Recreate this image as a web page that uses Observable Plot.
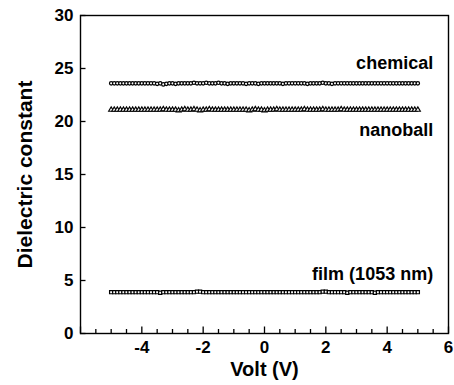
<!DOCTYPE html>
<html>
<head>
<meta charset="utf-8">
<script src="https://cdn.jsdelivr.net/npm/d3@7"></script>
<script src="https://cdn.jsdelivr.net/npm/@observablehq/plot@0.6"></script>
<style>
  html, body { margin: 0; padding: 0; background: #fff; }
  svg { display: block; }
</style>
</head>
<body>
<div id="chart"></div>
<script>
const volts = [
  -5.0,-4.9,-4.8,-4.7,-4.6,-4.5,-4.4,-4.3,-4.2,-4.1,
  -4.0,-3.9,-3.8,-3.7,-3.6,-3.5,-3.4,-3.3,-3.2,-3.1,
  -3.0,-2.9,-2.8,-2.7,-2.6,-2.5,-2.4,-2.3,-2.2,-2.1,
  -2.0,-1.9,-1.8,-1.7,-1.6,-1.5,-1.4,-1.3,-1.2,-1.1,
  -1.0,-0.9,-0.8,-0.7,-0.6,-0.5,-0.4,-0.3,-0.2,-0.1,
  0.0,0.1,0.2,0.3,0.4,0.5,0.6,0.7,0.8,0.9,
  1.0,1.1,1.2,1.3,1.4,1.5,1.6,1.7,1.8,1.9,
  2.0,2.1,2.2,2.3,2.4,2.5,2.6,2.7,2.8,2.9,
  3.0,3.1,3.2,3.3,3.4,3.5,3.6,3.7,3.8,3.9,
  4.0,4.1,4.2,4.3,4.4,4.5,4.6,4.7,4.8,4.9,
  5.0
];
const chemical = [
  23.6,23.6,23.6,23.6,23.6,23.6,23.6,23.6,23.6,23.6,
  23.6,23.6,23.6,23.6,23.6,23.55,23.6,23.5,23.55,23.6,
  23.6,23.55,23.6,23.6,23.6,23.6,23.6,23.65,23.6,23.6,
  23.6,23.65,23.6,23.6,23.6,23.65,23.6,23.6,23.55,23.6,
  23.6,23.6,23.6,23.6,23.55,23.6,23.6,23.6,23.55,23.6,
  23.6,23.6,23.6,23.6,23.6,23.6,23.55,23.6,23.6,23.6,
  23.6,23.6,23.6,23.6,23.55,23.6,23.6,23.6,23.6,23.65,
  23.6,23.6,23.55,23.6,23.6,23.6,23.6,23.6,23.6,23.6,
  23.6,23.6,23.6,23.6,23.6,23.6,23.6,23.6,23.6,23.6,
  23.6,23.6,23.6,23.6,23.6,23.6,23.6,23.6,23.6,23.6,
  23.6
];
const nanoball = [
  21.1,21.1,21.1,21.1,21.1,21.1,21.1,21.1,21.1,21.1,
  21.1,21.1,21.1,21.1,21.1,21.1,21.1,21.15,21.1,21.1,
  21.1,21.1,21.05,21.1,21.15,21.1,21.1,21.15,21.1,21.05,
  21.1,21.1,21.15,21.1,21.1,21.1,21.1,21.1,21.1,21.1,
  21.1,21.1,21.1,21.1,21.1,21.05,21.1,21.15,21.1,21.1,
  21.05,21.1,21.1,21.1,21.15,21.1,21.1,21.1,21.1,21.1,
  21.1,21.1,21.1,21.15,21.1,21.1,21.1,21.1,21.1,21.15,
  21.1,21.1,21.1,21.1,21.1,21.15,21.1,21.1,21.1,21.1,
  21.1,21.1,21.1,21.1,21.1,21.1,21.1,21.1,21.1,21.1,
  21.1,21.1,21.1,21.1,21.1,21.1,21.1,21.1,21.1,21.1,
  21.1
];
const film = [
  3.9,3.9,3.9,3.9,3.9,3.9,3.9,3.9,3.9,3.9,
  3.9,3.9,3.9,3.9,3.9,3.9,3.85,3.9,3.9,3.9,
  3.9,3.9,3.9,3.9,3.9,3.9,3.9,3.9,3.95,3.95,
  3.9,3.9,3.9,3.9,3.9,3.9,3.9,3.9,3.9,3.9,
  3.9,3.9,3.9,3.9,3.9,3.9,3.9,3.9,3.9,3.9,
  3.9,3.9,3.9,3.9,3.9,3.9,3.9,3.9,3.9,3.9,
  3.9,3.9,3.9,3.9,3.9,3.9,3.9,3.9,3.9,3.95,
  3.95,3.9,3.9,3.9,3.9,3.9,3.9,3.85,3.9,3.9,
  3.9,3.9,3.9,3.9,3.9,3.9,3.85,3.9,3.9,3.9,
  3.9,3.9,3.9,3.9,3.9,3.9,3.9,3.9,3.9,3.9,
  3.9
];
const seriesNames = ["chemical", "nanoball", "film (1053 nm)"];
const seriesLabelY = [25.5, 19.15, 5.6];   // data-space anchors for annotations
const seriesLabelX = 5.5;
const xTickLabels = [-4, -2, 0, 2, 4, 6];
const xMajorTicks = [-6, -4, -2, 0, 2, 4, 6];
const xMinorTicks = [-5.5,-5,-4.5,-3.5,-3,-2.5,-1.5,-1,-0.5,0.5,1,1.5,2.5,3,3.5,4.5,5,5.5];
const yTicks = [0, 5, 10, 15, 20, 25, 30];
const xTitle = "Volt (V)";
const yTitle = "Dielectric constant";

const pts = (vals) => volts.map((v, i) => ({x: v, y: vals[i]}));

const font = "'Liberation Sans', Arial, Helvetica, sans-serif";

const chart = Plot.plot({
  width: 454,
  height: 385,
  marginLeft: 80,
  marginRight: 6,
  marginTop: 15,
  marginBottom: 52,
  style: {fontFamily: font, fontWeight: "bold", color: "#000", background: "#fff"},
  x: {domain: [-6, 6]},
  y: {domain: [0, 30]},
  marks: [
    // inward ticks
    Plot.ruleX(xMajorTicks, {x: d => d, y1: 0, y2: 0, insetTop: -6.5, stroke: "#000", strokeWidth: 1.3}),
    Plot.ruleX(xMinorTicks, {x: d => d, y1: 0, y2: 0, insetTop: -4, stroke: "#000", strokeWidth: 1.3}),
    Plot.ruleY(yTicks, {y: d => d, x1: -6, x2: -6, insetRight: -5.5, stroke: "#000", strokeWidth: 1.3}),
    // tick labels
    Plot.axisX({ticks: xTickLabels, tickSize: 0, tickPadding: 7, label: null, tickFormat: d => String(d), fontSize: 17, fontWeight: "bold", fill: "#000"}),
    Plot.axisY({ticks: yTicks, tickSize: 0, tickPadding: 7, label: null, tickFormat: d => String(d), fontSize: 17, fontWeight: "bold", fill: "#000"}),
    Plot.frame({stroke: "#000", strokeWidth: 1.4}),
    // data
    Plot.dot(pts(chemical), {x: "x", y: "y", symbol: "circle", r: 1.7, stroke: "#000", strokeWidth: 1.2, fill: "#fff"}),
    Plot.dot(pts(nanoball), {x: "x", y: "y", symbol: "triangle", r: 1.9, stroke: "#000", strokeWidth: 1.1, fill: "#fff"}),
    Plot.dot(pts(film), {x: "x", y: "y", symbol: "square", r: 1.8, stroke: "#000", strokeWidth: 1.2, fill: "#fff"}),
    // annotations
    Plot.text(seriesNames, {x: () => seriesLabelX, y: (d, i) => seriesLabelY[i], text: d => d, textAnchor: "end", fontSize: 18, fontWeight: "bold", fill: "#000"}),
    // axis titles
    Plot.text([xTitle], {frameAnchor: "bottom", dy: 42, text: d => d, fontSize: 20, fontWeight: "bold", fill: "#000"}),
    Plot.text([yTitle], {frameAnchor: "left", dx: -55, rotate: -90, textAnchor: "middle", lineAnchor: "middle", text: d => d, fontSize: 21, fontWeight: "bold", fill: "#000"})
  ]
});
document.getElementById("chart").appendChild(chart);
</script>
</body>
</html>
